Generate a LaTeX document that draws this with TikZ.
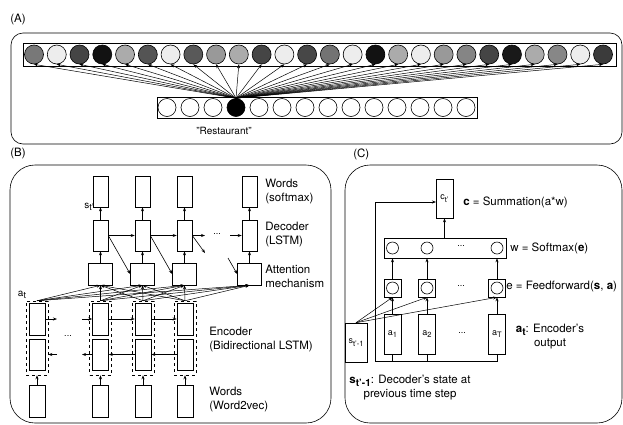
\documentclass[tikz,border=0pt]{standalone}
\usepackage{fontspec}
\setmainfont{TeX Gyre Heros}
\usetikzlibrary{arrows.meta}
\newcommand{\sbs}[2]{\raisebox{-0.5ex}{\fontsize{#1}{#1}\selectfont #2}}
\tikzset{
  box/.style n args={2}{draw,rectangle,inner sep=0pt,minimum width=#1,minimum height=#2},
  circ/.style={draw,circle,inner sep=0pt,minimum size=19},
  arr/.style={-{Stealth[length=4pt,width=3pt]}},
  lab/.style={font=\fontsize{11.5}{14}\selectfont,inner sep=0pt,align=left},
  tiny/.style={font=\fontsize{9}{10}\selectfont,inner sep=0pt},
}
\begin{document}
\begin{tikzpicture}[x=1pt,y=-1pt,line width=0.6pt]
\useasboundingbox (0,0) rectangle (623,424);
% (A) one-hot word to embedding
\node[lab,anchor=west] (labA) at (10,20) {(A)};
\draw[rounded corners=12pt] (11,33) rectangle (622,144);
\node[box={593}{23}] (top) at (319.5,54.5) {};
\foreach \i/\g in {1/53,2/7,3/73,4/93,5/33,6/67,7/7,8/65,9/40,10/33,11/73,12/7,13/72,
  14/55,15/7,16/93,17/33,18/7,19/40,20/48,21/73,22/90,23/33,24/47,25/7,26/77}
  \node[circ,fill=black!\g] (t\i) at ({34+(\i-1)*22.76},54.5) {};
\node[box={320}{21}] (bottom) at (317,107.5) {};
\foreach \i in {1,...,14}{
  \ifnum\i=4 \def\f{black}\else\def\f{white}\fi
  \node[circ,minimum size=18,fill=\f] (b\i) at ({167+(\i-1)*23},107.5) {};
}
\foreach \i in {1,...,26}
  \draw[arr,line width=0.5pt] (b4.north) -- (t\i.south);
\node[lab,font=\fontsize{10}{12}\selectfont] (word) at (224,131) {"Restaurant"};
% (B) encoder / decoder
\node[lab,anchor=west] (labB) at (10,154) {(B)};
\draw[rounded corners=25pt] (10,165) rectangle (331,423);
\foreach \i/\x in {1/100.5,2/142.5,3/184.5,4/249.5}{
  \node[box={15}{31}] (wd\i) at (\x,191.5) {};
  \node[box={15}{31}] (dec\i) at (\x,235.5) {};
  \node[box={24}{22}] (att\i) at (\x,274) {};
  \draw[arr] (att\i) -- (dec\i);
  \draw[arr] (dec\i) -- (wd\i);
}
\draw[arr] (dec1) -- (dec2);
\draw[arr] (dec2) -- (dec3);
\coordinate (dh1) at (205,235.5);
\coordinate (dh2) at (230,235.5);
\draw[arr] (dec3.east) -- (dh1);
\draw[arr] (dh2) -- (dec4.west);
\node[tiny] (dotsD) at (217,234) {...};
\draw[arr] (dec1.east) -- (att2.west);
\draw[arr] (dec2.east) -- (att3.west);
\coordinate (dd1) at (205,253);
\coordinate (dd2) at (228,258);
\draw[arr] (dec3.east) -- (dd1);
\draw[arr] (dd2) -- (att4.west);
\foreach \i/\x in {1/37,2/100.5,3/143,4/185}{
  \node[box={22}{74},dashed,line width=0.5pt] (grp\i) at (\x,338) {};
  \node[box={16}{32}] (eu\i) at (\x,319) {};
  \node[box={16}{31}] (el\i) at (\x,354.5) {};
  \node[box={16}{32}] (wv\i) at (\x,401) {};
  \draw[arr] (wv\i) -- (grp\i);
}
\coordinate (u1) at (57,319);
\coordinate (u2) at (82,319);
\coordinate (l1) at (57,354.5);
\coordinate (l2) at (82,354.5);
\draw[arr] (eu1.east) -- (u1);
\draw[arr] (u2) -- (eu2.west);
\draw[arr] (eu2) -- (eu3);
\draw[arr] (eu3) -- (eu4);
\draw[arr] (el4) -- (el3);
\draw[arr] (el3) -- (el2);
\draw[arr] (el2.west) -- (l2);
\draw[arr] (l1) -- (grp1.east |- l1);
\node[tiny] (dotsE) at (68,336) {...};
\foreach \g in {1,...,4}
  \foreach \a in {1,...,4}
    \draw[arr,line width=0.5pt] (grp\g.north) -- (att\a.south);
\node[lab,anchor=west] (lw) at (265,192) {Words\\(softmax)};
\node[lab,anchor=west] (ld) at (265,235) {Decoder\\(LSTM)};
\node[lab,anchor=west] (la) at (265,276) {Attention\\mechanism};
\node[lab,anchor=west] (le) at (209,340) {Encoder\\(Bidirectional LSTM)};
\node[lab,anchor=west] (lv) at (209,400) {Words\\(Word2vec)};
\node[lab,font=\fontsize{10}{12}\selectfont] (st) at (89,207) {s\sbs{9}{t'}};
\node[lab,font=\fontsize{10}{12}\selectfont] (at) at (22,295) {a\sbs{9}{t}};
% (C) attention mechanism
\node[lab,anchor=west] (labC) at (353,154) {(C)};
\draw[rounded corners=25pt] (345,165) rectangle (622,423);
\node[box={17}{39},tiny] (cbox) at (444.5,198.5) {c\sbs{7.5}{t'}};
\node[box={122}{20}] (smx) at (445,248) {};
\foreach \i/\x in {1/392.5,2/427,3/497}{
  \node[circ,minimum size=12] (sm\i) at (\x,248) {};
  \node[box={17}{18}] (ff\i) at (\x,288) {};
  \node[circ,minimum size=12] (ffc\i) at (\x,288) {};
  \draw[arr] (ff\i.north) -- (ff\i.north |- smx.south);
}
\node[box={17}{40},tiny] (a1) at (392.5,334) {a\sbs{7.5}{1}};
\node[box={17}{40},tiny] (a2) at (427,334) {a\sbs{7.5}{2}};
\node[box={17}{40},tiny] (a3) at (497,334) {a\sbs{7.5}{T}};
\node[box={22}{39},tiny] (sprev) at (356,342.5) {s\sbs{7.5}{t'-1}};
\node[tiny] (dotsS) at (461,246) {...};
\node[tiny] (dotsF) at (461,286) {...};
\node[tiny] (dotsA) at (462,333) {...};
\coordinate (bl) at (375,361);
\coordinate (cin) at (436,202);
\foreach \i in {1,2,3}{
  \draw[arr] (a\i) -- (ff\i);
  \draw[arr,line width=0.5pt] (sprev.north) -- (ff\i.south);
}
\draw (a1.south) -- (a1.south |- bl);
\draw (a2.south) -- (a2.south |- bl);
\draw[arr] (a3.south) |- (bl) |- (cin);
\draw[arr] (cbox.south |- smx.north) -- (cbox.south);
\node[lab,anchor=west] (lc) at (463,202) {\textbf{c} = Summation(a*w)};
\node[lab,anchor=west] (lsm) at (510,248) {w = Softmax(\textbf{e})};
\node[lab,anchor=west] (lff) at (506,287) {e = Feedforward(\textbf{s}, \textbf{a})};
\node[lab,align=center] (lat) at (550,337) {\textbf{a}\sbs{10}{\textbf{t}}: Encoder's\\output};
\node[lab,align=center] (lst) at (410,388) {\textbf{s}\sbs{10}{\textbf{t'-1}}: Decoder's state at\\previous time step};
\end{tikzpicture}
\end{document}
